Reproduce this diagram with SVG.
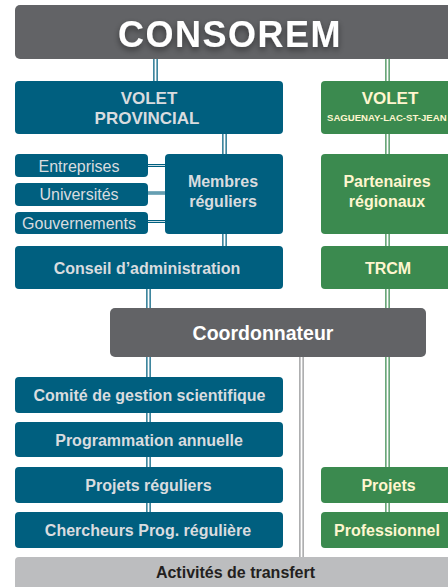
<svg xmlns="http://www.w3.org/2000/svg" width="448" height="587" viewBox="0 0 448 587">
  <defs>
    <filter id="txtShadow" x="-20%" y="-40%" width="140%" height="200%">
      <feDropShadow dx="0" dy="3" stdDeviation="3" flood-color="#000" flood-opacity="0.45"/>
    </filter>
    <style>
      text { font-family: "Liberation Sans", Arial, sans-serif; font-weight: bold; text-anchor: middle; }
      .blue { fill: #005f7f; }
      .green { fill: #3b8a4f; }
      .dark { fill: #626366; }
      .light { fill: #bcbdbf; }
      .tb { fill: #d9dcdf; font-size: 16px; }
      .tr { fill: #d9dcdf; font-size: 16px; font-weight: normal; }
      .tg { fill: #fff6cf; font-size: 16px; }
      .tw { fill: #ffffff; }
      .big { font-size: 17px; }
      .tiny { font-size: 9.6px; text-anchor: start; }
      .lb { stroke: #005f7f; stroke-width: 4.5; fill: none; }
      .lg { stroke: #3b8a4f; stroke-width: 4.5; fill: none; }
      .lk { stroke: #939496; stroke-width: 4.5; fill: none; }
      .gap { stroke: #ffffff; stroke-width: 2; fill: none; }
      .lbh { stroke: #005f7f; stroke-width: 3; fill: none; }
      .gaph { stroke: #ffffff; stroke-width: 0.8; fill: none; }
    </style>
  </defs>

  <rect width="448" height="587" fill="#ffffff"/>

  <!-- double-rule connectors -->
  <g id="connectors">
    <path class="lb" d="M155.5 59V81M224.5 134V154M224.5 234V246M148.5 289V308M148.5 357V548"/>
    <path class="gap" d="M155.5 59V81M224.5 134V154M224.5 234V246M148.5 289V308M148.5 357V548"/>
    <path class="lg" d="M387.5 59V467M387.5 503V512"/>
    <path class="gap" d="M387.5 59V467M387.5 503V512"/>
    <path class="lk" d="M301.5 357V557"/>
    <path class="gap" d="M301.5 357V557"/>
    <path class="lbh" d="M148 165.5H165M148 193H165M148 221.5H165"/>
    <path class="gaph" d="M148 165.5H165M148 193H165M148 221.5H165"/>
  </g>

  <g id="consorem">
    <rect class="dark" x="15" y="5" width="445" height="54" rx="5"/>
    <text class="tw" x="230" y="47" font-size="36" letter-spacing="1.5" filter="url(#txtShadow)">CONSOREM</text>
  </g>

  <g id="volet-provincial">
    <rect class="blue" x="15" y="81" width="268" height="53" rx="4"/>
    <text class="tb big" x="149" y="104">VOLET</text>
    <text class="tb big" x="147" y="124">PROVINCIAL</text>
  </g>

  <g id="volet-slsj">
    <rect class="green" x="321" y="81" width="140" height="53" rx="4"/>
    <text class="tg big" x="390" y="104">VOLET</text>
    <text class="tg tiny" x="327" y="121">SAGUENAY-LAC-ST-JEAN</text>
  </g>

  <g id="entreprises">
    <rect class="blue" x="15" y="154" width="133" height="23" rx="4"/>
    <text class="tr" x="79" y="171.5">Entreprises</text>
  </g>
  <g id="universites">
    <rect class="blue" x="15" y="183" width="133" height="23" rx="4"/>
    <text class="tr" x="79" y="200">Universités</text>
  </g>
  <g id="gouvernements">
    <rect class="blue" x="15" y="212" width="133" height="22" rx="4"/>
    <text class="tr" x="79" y="228.5">Gouvernements</text>
  </g>

  <g id="membres">
    <rect class="blue" x="165" y="154" width="118" height="80" rx="4"/>
    <text class="tb" x="223" y="187">Membres</text>
    <text class="tb" x="223" y="207">réguliers</text>
  </g>

  <g id="partenaires">
    <rect class="green" x="321" y="154" width="140" height="80" rx="4"/>
    <text class="tg" x="387" y="187">Partenaires</text>
    <text class="tg" x="387" y="207">régionaux</text>
  </g>

  <g id="conseil">
    <rect class="blue" x="15" y="246" width="268" height="43" rx="4"/>
    <text class="tb" x="147" y="273.5">Conseil d’administration</text>
  </g>

  <g id="trcm">
    <rect class="green" x="321" y="246" width="140" height="43" rx="4"/>
    <text class="tg" x="388" y="273.5">TRCM</text>
  </g>

  <g id="coordonnateur">
    <rect class="dark" x="110" y="308" width="316" height="49" rx="5"/>
    <text class="tw" x="263" y="340" font-size="19.5">Coordonnateur</text>
  </g>

  <g id="comite">
    <rect class="blue" x="15" y="377" width="268" height="36" rx="4"/>
    <text class="tb" x="149.5" y="401">Comité de gestion scientifique</text>
  </g>

  <g id="programmation">
    <rect class="blue" x="15" y="422" width="268" height="35" rx="4"/>
    <text class="tb" x="149" y="445.5">Programmation annuelle</text>
  </g>

  <g id="projets-reguliers">
    <rect class="blue" x="15" y="467" width="268" height="36" rx="4"/>
    <text class="tb" x="148.5" y="490.5">Projets réguliers</text>
  </g>

  <g id="chercheurs">
    <rect class="blue" x="15" y="512" width="268" height="36" rx="4"/>
    <text class="tb" x="148" y="535.5">Chercheurs Prog. régulière</text>
  </g>

  <g id="projets">
    <rect class="green" x="321" y="467" width="140" height="36" rx="4"/>
    <text class="tg" x="388.5" y="490.5">Projets</text>
  </g>

  <g id="professionnel">
    <rect class="green" x="321" y="512" width="140" height="36" rx="4"/>
    <text class="tg" x="387" y="535.5">Professionnel</text>
  </g>

  <g id="activites">
    <rect class="light" x="15" y="557" width="450" height="40" rx="4"/>
    <text x="235.5" y="578" font-size="16" fill="#231f20">Activités de transfert</text>
  </g>
</svg>
